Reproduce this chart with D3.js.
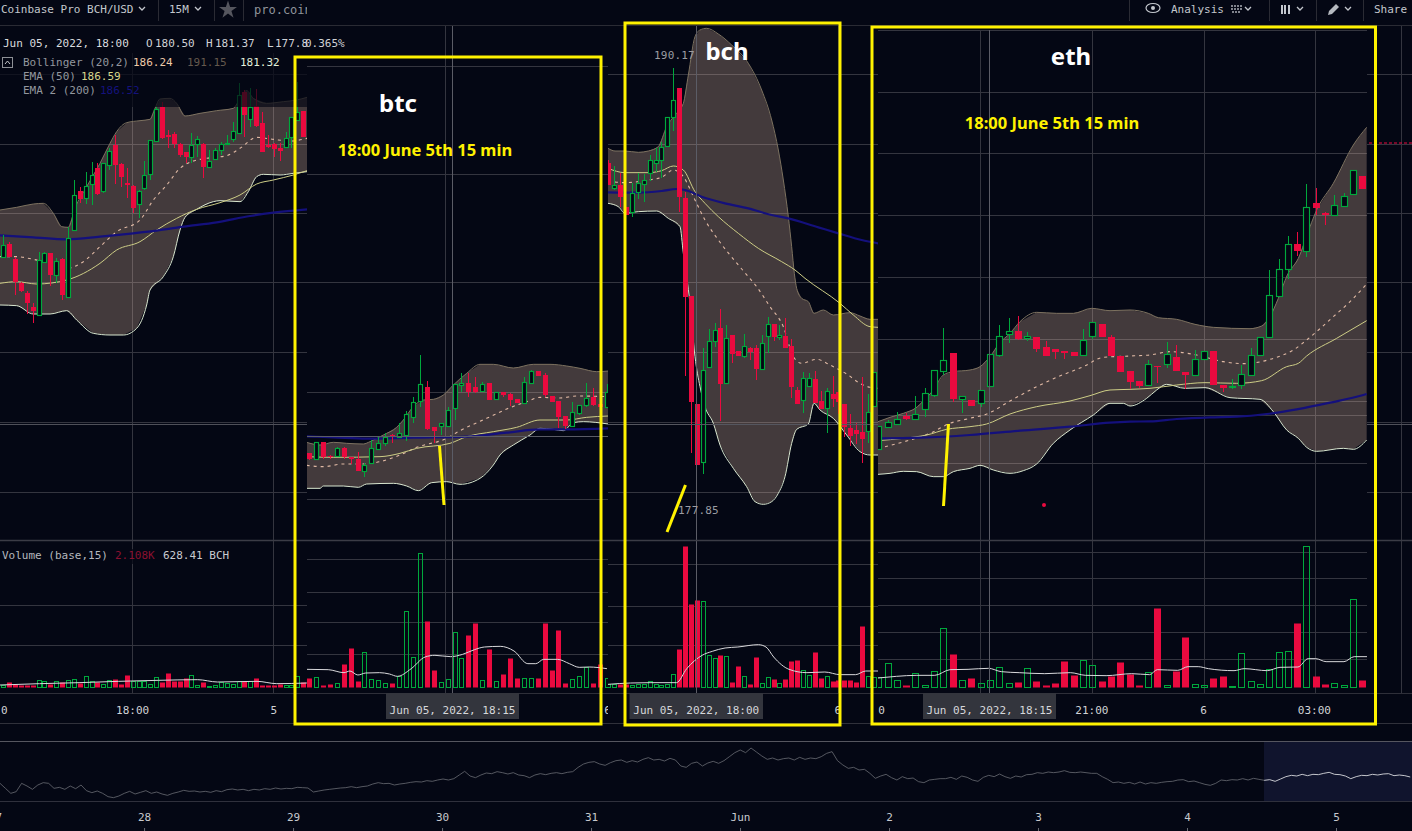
<!DOCTYPE html>
<html><head><meta charset="utf-8">
<style>html,body{margin:0;padding:0;background:#040714;overflow:hidden}svg{display:block}
.m{font-family:"DejaVu Sans Mono",monospace;font-size:11px}</style>
<script src="https://cdnjs.cloudflare.com/ajax/libs/d3/7.8.5/d3.min.js"></script></head><body>
<script>
// ---- data: candles are [open, close, high, low] on each pane's own level scale (smaller level = higher on screen)
const leftCandles=[[772,735,705,775],[733,770,725,772],[778,845,770,885],[848,872,845,875],[878,910,873,942],[922,932,910,968],[945,780,755,945],[786,758,755,790],[760,826,758,858],[826,782,775,850],[778,884,775,900],[892,714,680,892],[690,584,540,690],[574,596,562,610],[595,557,515,612],[553,524,485,615],[504,582,490,585],[572,490,490,580],[495,452,445,510],[436,494,405,552],[492,532,490,560],[550,556,505,595],[558,624,556,638],[612,572,570,655],[565,524,482,570],[522,419,419,540],[424,328,320,424],[322,414,305,416],[405,410,390,445],[403,431,395,445],[433,466,430,470],[457,470,455,488],[472,436,400,488],[432,418,408,470],[432,500,430,535],[501,484,450,505],[476,449,445,480],[451,431,425,465],[432,430,405,433],[418,394,365,425],[400,284,250,400],[277,345,270,412],[358,322,265,380],[318,378,268,380],[370,455,335,455],[435,441,405,445],[433,446,430,470],[445,452,430,482],[440,413,395,442],[412,350,350,443],[360,335,245,360],[334,410,332,412],[408,525,405,530]];
const leftUpper=[[0,630],[50,622],[100,612],[130,610],[160,640],[185,680],[205,682],[225,625],[260,560],[300,490],[330,430],[350,395],[380,368],[420,362],[450,358],[465,325],[480,297],[510,295],[530,310],[555,348],[600,340],[650,332],[700,325],[715,305],[740,272],[760,295],[800,310],[850,305],[890,300],[921,292]];
const leftLower=[[0,915],[50,917],[100,942],[150,942],[200,932],[230,960],[280,1000],[330,1005],[370,1005],[410,985],[440,915],[450,870],[490,830],[520,770],[540,690],[555,652],[590,628],[640,605],[660,602],[720,605],[745,575],[770,530],[790,523],[840,525],[880,520],[921,515]];
const leftMiddle=[[0,770],[50,770],[100,778],[200,805],[250,785],[300,740],[350,695],[420,660],[460,600],[500,555],[540,505],[580,483],[620,475],[680,467],[720,445],[770,412],[820,418],[870,423],[921,415]];
const leftEma50=[[0,850],[50,845],[110,852],[200,840],[300,790],[350,750],[420,725],[470,690],[530,655],[590,628],[660,608],[720,585],[770,552],[820,540],[880,525],[921,512]];
const leftEma200=[[0,706],[100,712],[200,718],[300,710],[400,700],[470,692],[550,680],[650,667],[750,648],[820,638],[921,628]];

const btcCandles=[[340,357,340,360],[358,307,307,358],[307,350,307,358],[347,352,345,358],[347,325,322,348],[325,350,322,358],[352,358,350,372],[358,392,335,392],[392,376,370,412],[370,325,300,372],[326,310,290,328],[310,290,280,318],[285,291,282,310],[291,278,250,295],[284,223,212,302],[232,187,170,248],[184,133,46,200],[142,268,122,270],[262,273,262,310],[257,250,250,285],[257,211,200,258],[205,133,133,240],[136,130,98,155],[130,155,100,172],[142,155,110,160],[154,131,125,155],[130,179,130,180],[178,155,155,180],[155,165,155,170],[162,180,160,198],[178,188,178,190],[188,127,112,190],[128,94,90,130],[94,107,94,108],[106,165,100,170],[168,185,168,185],[184,231,184,265],[229,257,229,268],[257,215,185,260],[220,196,195,225],[194,173,130,200],[172,195,145,197],[193,202,193,245],[200,155,133,200]];
const btcUpper=[[20,307],[60,315],[100,307],[140,310],[190,312],[210,305],[250,285],[290,262],[310,240],[340,200],[370,180],[400,178],[430,165],[460,135],[500,100],[540,73],[580,73],[640,84],[700,73],[750,73],[800,78],[840,85],[890,95],[925,93]];
const btcLower=[[20,445],[60,445],[70,438],[130,438],[175,442],[200,432],[280,430],[320,438],[355,452],[395,428],[440,425],[480,433],[540,415],[580,375],[600,345],[640,315],[690,285],[720,265],[760,268],[790,272],[820,248],[850,245],[925,252]];
const btcMiddle=[[20,376],[70,380],[130,372],[180,372],[240,365],[300,345],[350,322],[440,295],[480,272],[560,235],[620,207],[680,185],[720,172],[780,174],[830,168],[925,170]];
const btcEma50=[[20,350],[100,352],[240,350],[300,340],[350,325],[450,310],[500,290],[580,275],[650,262],[720,240],[800,240],[860,232],[925,228]];
const btcEma200=[[20,289],[100,292],[200,296],[340,293],[500,290],[620,278],[720,268],[800,268],[925,265]];

const bchCandles=[[430,495,420,495],[503,496,437,510],[495,532,458,560],[560,585,560,585],[576,520,488,590],[515,488,460,538],[493,481,462,545],[460,421,405,482],[430,421,385,455],[421,380,365,475],[379,292,290,380],[290,241,145,332],[204,530,204,575],[534,830,515,1068],[828,1145,828,1298],[1152,1335,1152,1335],[1325,1051,985,1362],[1040,964,926,1040],[964,931,910,980],[924,1091,868,1202],[1088,955,915,1092],[946,1001,946,1030],[993,1007,993,1008],[1007,979,943,1015],[984,996,980,1020],[984,1047,975,1080],[1048,970,945,1048],[949,913,892,1000],[912,951,912,962],[952,946,915,960],[948,983,895,983],[978,1100,958,1135],[1110,1152,1102,1152],[1141,1075,1055,1178],[1099,1075,1060,1100],[1077,1150,1052,1150],[1144,1167,1112,1167],[1165,1114,1105,1238],[1122,1136,1068,1162],[1116,1145,1116,1182],[1152,1222,1152,1250],[1225,1247,1182,1277],[1230,1241,1208,1272],[1237,1256,1072,1330],[1234,1175,1123,1270],[1159,1055,1055,1159],[1055,965,965,1055]];
const bchUpper=[[9,385],[30,393],[60,393],[100,397],[130,393],[160,380],[185,320],[210,285],[235,250],[250,165],[270,50],[285,30],[305,25],[340,42],[380,75],[430,130],[470,210],[500,300],[520,390],[535,480],[550,590],[560,680],[568,760],[575,805],[590,835],[610,845],[627,880],[655,870],[685,885],[735,878],[765,888],[795,898],[820,898]];
const bchLower=[[9,550],[40,560],[60,580],[100,575],[155,573],[190,595],[225,620],[235,700],[245,770],[255,850],[270,1010],[285,1100],[300,1160],[325,1210],[345,1275],[385,1345],[425,1400],[450,1445],[475,1453],[500,1445],[520,1420],[540,1370],[560,1270],[575,1228],[610,1212],[627,1150],[645,1170],[685,1195],[725,1245],[765,1295],[795,1305],[820,1305]];
const bchMiddle=[[9,483],[60,488],[130,480],[170,472],[205,450],[235,470],[270,540],[300,600],[340,660],[400,735],[430,770],[455,800],[495,860],[535,920],[565,1010],[590,1030],[635,1018],[675,1035],[725,1062],[765,1090],[795,1102],[820,1105]];
const bchEma50=[[9,445],[60,458],[130,458],[170,452],[205,438],[235,450],[270,515],[300,550],[340,590],[400,640],[460,685],[530,725],[570,750],[600,775],[705,850],[745,885],[795,920],[820,922]];
const bchEma200=[[9,517],[100,518],[170,513],[215,507],[240,510],[290,530],[360,550],[430,565],[500,585],[550,595],[640,622],[700,640],[770,660],[820,670]];

const ethCandles=[[988,918,918,988],[920,907,900,925],[911,898,877,913],[888,897,880,900],[898,881,827,900],[868,820,805,892],[826,751,751,830],[752,721,625,765],[700,837,700,845],[836,829,829,880],[840,857,840,858],[850,811,811,860],[799,703,703,800],[706,649,616,712],[641,634,595,670],[634,657,588,660],[653,649,637,662],[652,686,652,695],[682,707,662,707],[688,695,688,716],[694,699,694,716],[696,707,696,708],[706,659,628,707],[649,605,605,658],[612,650,612,650],[652,707,644,708],[708,755,708,755],[754,785,754,808],[783,797,783,805],[796,733,720,797],[738,741,738,788],[731,703,667,743],[712,752,676,753],[756,765,756,808],[764,718,690,765],[716,694,694,717],[693,795,693,796],[795,803,795,815],[802,799,778,808],[796,763,735,808],[764,706,685,767],[706,652,652,707],[650,526,450,655],[527,448,418,527],[446,373,347,478],[373,392,337,408],[394,262,193,410],[249,263,203,285],[279,284,275,316],[284,256,225,285],[257,229,220,257],[223,151,151,224],[168,207,168,207]];
const ethUpper=[[24,905],[60,892],[100,880],[136,865],[163,840],[190,810],[220,765],[250,755],[300,750],[330,740],[360,710],[388,670],[420,640],[450,605],[500,577],[560,580],[610,580],[665,565],[720,572],[780,570],[835,580],[865,593],[920,598],[975,613],[1030,622],[1140,626],[1175,618],[1200,590],[1225,535],[1252,465],[1285,415],[1320,320],[1340,270],[1390,190],[1450,75],[1490,22]];
const ethLower=[[24,1063],[60,1060],[100,1054],[140,1055],[190,1070],[220,1070],[250,1055],[300,1045],[330,1036],[370,1050],[420,1060],[460,1052],[500,1032],[550,970],[600,930],[670,885],[720,850],[760,850],[780,858],[830,835],[860,810],[890,793],[945,805],[1005,803],[1080,833],[1170,838],[1210,875],[1250,930],[1285,955],[1310,982],[1340,994],[1420,985],[1450,988],[1490,960]];
const ethMiddle=[[45,980],[120,960],[180,940],[240,910],[300,895],[350,882],[420,843],[500,800],[560,772],[640,740],[700,712],[780,708],[840,705],[900,695],[980,705],[1060,725],[1120,731],[1210,715],[1270,690],[1310,660],[1390,590],[1440,545],[1490,492]];
const ethEma50=[[24,962],[100,955],[170,945],[230,928],[300,920],[350,912],[420,882],[500,860],[600,843],[660,827],[720,810],[780,808],[840,805],[920,795],[1005,788],[1100,790],[1175,782],[1250,740],[1285,730],[1310,708],[1400,655],[1490,602]];
const ethEma200=[[24,955],[150,953],[300,945],[450,932],[600,920],[720,908],[780,905],[840,904],[920,897],[1020,892],[1100,890],[1190,882],[1280,868],[1380,848],[1480,825],[1490,822]];

const leftVol=[7,16,8,7,7,7,21,19,10,17,16,22,25,12,34,19,16,8,20,23,8,35,18,17,18,10,29,14,41,18,18,26,37,7,14,4,7,15,11,10,19,17,19,26,5,5,5,10,5,5,32,14,26];
const leftVolSide="GRRRRRGGRGRGGRGGRGGRRRGGGGGRRRRRGGRGGGGGGRGRRRRRGGGRR";
const btcVol=[26,31,5,8,13,70,118,17,105,25,22,13,11,32,228,90,403,199,52,16,25,166,87,157,193,22,115,18,40,88,26,28,28,26,193,50,172,13,25,33,60,13,70,28];
const btcVolSide="RGRRGRRRGGGGRGGGGRRGGGGRRGRGRRRGGRRRRRGGGRRG";
const bchVol=[8,8,8,8,7,10,8,18,9,7,9,40,113,422,250,260,258,95,88,97,93,14,62,34,9,91,12,31,23,13,23,77,80,50,37,106,26,34,18,20,22,20,14,182,34,30,35];
const bchVolSide="GGRRGGGGGGGGRRRRGGGRGRRGRRGGRGRRRGGRRGRRRRRRGGG";
const ethVol=[30,73,22,5,43,7,49,178,98,20,27,13,22,61,13,14,58,17,6,11,77,35,82,67,17,33,74,40,5,46,236,7,47,149,10,7,26,32,4,103,19,10,55,106,109,191,422,32,8,13,7,265,20];
const ethVolSide="GGGRGGGGRGRGGGGRGRRRRRGGRRRRRGRGRRGGRRGGGGGGGRGRRGGGR";
const leftVolMa=[[0,6],[100,10],[200,13],[300,17],[400,20],[500,22],[550,15],[650,17],[700,10],[776,12]];
const btcVolMa=[[776,53],[830,52],[870,43],[885,48],[905,36],[925,42],[960,43],[985,39],[1005,32],[1040,55],[1075,90],[1100,95],[1140,91],[1170,98],[1200,112],[1225,120],[1265,122],[1300,108],[1335,70],[1355,70],[1375,83],[1410,83],[1440,70],[1465,59],[1490,60],[1535,55]];
const bchVolMa=[[-4,8],[40,12],[80,13],[130,13],[150,55],[180,95],[200,107],[225,117],[250,120],[290,127],[305,120],[320,90],[350,53],[385,43],[420,45],[450,37],[480,37],[500,48],[524,48]];
const ethVolMa=[[524,27],[560,32],[600,35],[635,35],[665,52],[700,53],[740,56],[765,46],[800,43],[850,40],[900,43],[930,35],[970,34],[1020,40],[1055,37],[1070,52],[1110,50],[1130,61],[1150,61],[1170,55],[1220,49],[1240,55],[1285,49],[1310,59],[1345,60],[1365,85],[1380,85],[1400,76],[1435,76],[1455,91],[1480,91]];

const navSeries=[160,175,190,185,160,168,178,165,158,160,175,172,178,168,176,165,182,188,183,190,200,203,198,190,184,192,187,182,190,186,192,196,190,186,181,184,183,186,184,187,182,185,179,177,180,178,182,178,180,176,178,174,177,175,176,172,173,174,186,183,180,178,176,174,173,170,173,170,168,162,158,161,160,165,162,160,157,155,156,152,154,150,147,150,146,135,124,138,143,135,129,131,125,128,132,128,135,137,143,135,131,134,130,128,131,127,125,112,102,97,95,102,106,98,92,90,97,92,96,88,83,90,88,93,85,90,108,112,100,96,108,99,94,100,92,80,68,60,68,54,66,78,88,84,90,86,84,90,82,88,84,86,80,70,65,92,105,115,112,120,118,130,145,138,133,143,150,140,146,144,155,158,150,148,146,146,142,148,138,142,150,154,142,136,140,132,140,145,138,141,134,133,128,130,126,128,126,122,127,128,126,128,130,130,140,148,158,156,160,157,162,156,162,158,160,157,155,154,150,149,155,153,158,163,166,160,150,152,149,150,146,150,145,148,151,149,154,147,140,136,138,133,137,133,134,130,127,133,134,138,146,140,136,137,133,135,132,131,137,135,137,141];
const navLabels=["27","28","29","30","31","Jun","2","3","4","5"];
const crosshairLabels=["Jun 05, 2022, 18:15","Jun 05, 2022, 18:00","Jun 05, 2022, 18:15"];
const noteTitles=["btc","bch","eth"];
const noteTime="18:00 June 5th 15 min";
const peakLabels=["190.17","177.85"];

// ---- drawing
const W=1412,H=831,BG="#040714",GREEN="#00a83c",RED="#ea0a3f",GRID="#34353f",YEL="#fff200";
const svg=d3.select("body").append("svg").attr("width",W).attr("height",H).style("background",BG);
const defs=svg.append("defs");
const clip=(id,x0,x1,y0=0,y1=H)=>defs.append("clipPath").attr("id",id).append("rect").attr("x",x0).attr("y",y0).attr("width",x1-x0).attr("height",y1-y0);
const hline=(g,y,x0,x1,c=GRID,w=1)=>g.append("line").attr("x1",x0).attr("x2",x1).attr("y1",y+.5).attr("y2",y+.5).attr("stroke",c).attr("stroke-width",w);
const vline=(g,x,y0,y1,c=GRID,w=1)=>g.append("line").attr("x1",x+.5).attr("x2",x+.5).attr("y1",y0).attr("y2",y1).attr("stroke",c).attr("stroke-width",w);

const volY=d3.scaleLinear().domain([0,450]).range([687,537]);
const xVolA=d3.scaleLinear().domain([0,1568]).range([0,620]);
const xVolB=d3.scaleLinear().domain([0,1568]).range([610,1412]);

const panes=[
 {id:"pl",x0:0,x1:307,first:3.3,last:309.1,bw:4,x:d3.scaleLinear().domain([0,930]).range([0,310]),y:d3.scaleLinear().domain([0,1020]).range([0,340]),c:leftCandles,u:leftUpper,l:leftLower,m:leftMiddle,e1:leftEma50,e2:leftEma200,v:leftVol,s:leftVolSide,ma:leftVolMa,xv:xVolA,vbw:4,
  grid:[74,144,213,282,352,422,492],vgrid:[132,273],vgridV:[605,645],ticks:[[0.1,"0"],[21.9,"18:00"],[45.9,"5"]],top:53},
 {id:"pb",x0:307,x1:608,first:309,last:607,bw:4,x:d3.scaleLinear().domain([0,960]).range([300,620]),y:d3.scaleLinear().domain([0,510]).range([340,510]),c:btcCandles,u:btcUpper,l:btcLower,m:btcMiddle,e1:btcEma50,e2:btcEma200,v:btcVol,s:btcVolSide,ma:btcVolMa,xv:xVolA,vbw:4,
  grid:[66,174,282,392,499],vgrid:[445],vgridV:[559,592,622,654],ticks:[[43,"6"]],top:26},
 {id:"pc",x0:608,x1:878,first:608.3,last:879.7,bw:4,x:d3.scaleLinear().domain([0,840]).range([605,885]),y:d3.scaleLinear().domain([0,780]).range([20,280]),c:bchCandles,u:bchUpper,l:bchLower,m:bchMiddle,e1:bchEma50,e2:bchEma200,v:bchVol,s:bchVolSide,ma:bchVolMa,xv:xVolB,vbw:4,
  grid:[74,144,213,282,352,422,492],vgrid:[838],vgridV:[564,606,645],ticks:[[38.8,"6"]],top:26},
 {id:"pe",x0:878,x1:1367,first:878.2,last:1362.3,bw:6,x:d3.scaleLinear().domain([0,1490]).range([870,1366.67]),y:d3.scaleLinear().domain([0,1000]).range([120,453.33]),c:ethCandles,u:ethUpper,l:ethLower,m:ethMiddle,e1:ethEma50,e2:ethEma200,v:ethVol,s:ethVolSide,ma:ethVolMa,xv:xVolB,vbw:6,
  grid:[30,92,153,215,277,339,401,415,463],vgrid:[980,1092,1204,1315],vgridV:[552,578,605,632,659],ticks:[[0.3,"0"],[22.9,"21:00"],[34.9,"6"],[46.8,"03:00"],[55.8,"7"]],top:30}
];

// right-hand strip of the underlying chart
const strip=svg.append("g");
[74,144,213,282,352,422,492].forEach(y=>hline(strip,y,1367,W));
vline(strip,1401,26,693);

hline(svg,25,0,W,"#2a2b34");
panes.forEach(p=>{
 clip(p.id,p.x0,p.x1);
 const g=svg.append("g").attr("clip-path",`url(#${p.id})`);
 p.grid.forEach(y=>hline(g,y,p.x0,p.x1));
 p.vgrid.forEach(x=>vline(g,x,p.top,693));
 p.vgridV.forEach(y=>hline(g,y,p.x0,p.x1));
 const line=d3.line().x(d=>p.x(d[0])).y(d=>p.y(d[1])).curve(d3.curveMonotoneX);
 const upPts=p.u.map(d=>[p.x(d[0]),p.y(d[1])]), loPts=p.l.slice().reverse().map(d=>[p.x(d[0]),p.y(d[1])]);
 g.append("path").attr("d",d3.line().curve(d3.curveLinear)(upPts.concat(loPts))+"Z").attr("fill","#ffd0b4").attr("fill-opacity",.255);
 const stroke=(data,c,w,dash)=>g.append("path").attr("d",line(data)).attr("fill","none").attr("stroke",c).attr("stroke-width",w).attr("stroke-dasharray",dash||null);
 stroke(p.u,"#7d7260",1);
 stroke(p.l,"#d8e6cf",1);
 stroke(p.m,"#e0b9a4",1.1,"3,4");
 stroke(p.e1,"#cdcd86",1);
 stroke(p.e2,"#14107c",2.2);
 // candles through a bar-index scale and the pane's level scale
 const xi=d3.scaleLinear().domain([0,p.c.length-1]).range([p.first,p.last]);
 const cx=i=>Math.round(xi(i))+.5;
 const ry=v=>Math.round(p.y(v));
 const up=d=>d[1]<d[0];
 const cg=g.selectAll("g.c").data(p.c).join("g").attr("class","c");
 cg.append("line").attr("x1",(d,i)=>cx(i)).attr("x2",(d,i)=>cx(i)).attr("y1",d=>ry(d[2])).attr("y2",d=>ry(d[3])).attr("stroke",d=>up(d)?GREEN:RED).attr("stroke-width",1);
 cg.append("rect").attr("x",(d,i)=>Math.floor(cx(i)-p.bw/2)+(up(d)?.5:0)).attr("width",d=>up(d)?p.bw:p.bw+1)
   .attr("y",d=>ry(Math.min(d[0],d[1]))+(up(d)?.5:0)).attr("height",d=>Math.max(1,Math.abs(ry(d[0])-ry(d[1]))))
   .attr("fill",d=>up(d)?BG:RED).attr("stroke",d=>up(d)?GREEN:"none").attr("stroke-width",1.15);
 // volume
 const xv=d3.scaleLinear().domain([0,p.v.length-1]).range([p.first,p.last]);
 const vx=i=>Math.floor(Math.round(xv(i))+.5-p.vbw/2);
 g.selectAll("rect.v").data(p.v).join("rect").attr("class","v")
   .attr("x",(d,i)=>vx(i)+(p.s[i]==="G"?.5:0)).attr("width",(d,i)=>p.s[i]==="G"?p.vbw:p.vbw+1)
   .attr("y",d=>Math.round(volY(d))+.5).attr("height",d=>Math.max(1,Math.round(volY(0)-volY(d))))
   .attr("fill",(d,i)=>p.s[i]==="G"?"none":RED).attr("stroke",(d,i)=>p.s[i]==="G"?GREEN:"none").attr("stroke-width",1);
 g.append("path").attr("d",d3.line().x(d=>p.xv(d[0])).y(d=>volY(d[1])).curve(d3.curveMonotoneX)(p.ma)).attr("fill","none").attr("stroke","#d9d9dc").attr("stroke-width",1);
 // time axis
 const ax=d3.axisBottom(xi).tickValues(p.ticks.map(t=>t[0])).tickFormat((d,i)=>p.ticks[i][1]).tickSize(0).tickPadding(13);
 const ag=g.append("g").attr("transform","translate(0,693)").call(ax);
 ag.select(".domain").remove();
 ag.selectAll("text").attr("class","m").attr("fill","#d2d3d6").style("font-family",'"DejaVu Sans Mono",monospace').style("font-size","11px");
});

// red stray dot, last-price dashes
svg.append("circle").attr("cx",1044).attr("cy",505).attr("r",2).attr("fill",RED);
svg.append("line").attr("x1",1369).attr("x2",W).attr("y1",143).attr("y2",143).attr("stroke",RED).attr("stroke-width",1).attr("stroke-dasharray","3,2");

// crosshairs
const CH="#5b5c66";
[[452,26,693],[696,26,693],[989,30,693]].forEach(([x,a,b])=>vline(svg,x,a,b,CH));
hline(svg,424,0,307,"#4f5059");hline(svg,436,307,608,CH);hline(svg,424,608,878,"#55565f");hline(svg,424,1367,W,"#4f5059");
hline(svg,540,0,W,"#3b3c46",1.5);
hline(svg,693,0,W,"#2e2f39");hline(svg,723,0,W,"#30313b");

// legend dim box over the left chart
svg.append("rect").attr("x",0).attr("y",53).attr("width",307).attr("height",54).attr("fill",BG).attr("fill-opacity",.7);
svg.append("rect").attr("x",0).attr("y",549).attr("width",228).attr("height",15).attr("fill",BG).attr("fill-opacity",.7);

const txt=(s,x,y,c="#b9bdc4",cls="m",anchor="start",g=svg)=>g.append("text").attr("class",cls).attr("x",x).attr("y",y).attr("fill",c).attr("text-anchor",anchor).text(s);
// toolbar
const tb=svg.append("g");
txt("Coinbase Pro BCH/USD",1,13,"#c3c7cd","m","start",tb);
txt("15M",169,13,"#c3c7cd","m","start",tb);
clip("ptool",0,307);
txt("pro.coin",254,14,"#8f939a","m","start",tb.append("g").attr("clip-path","url(#ptool)")).style("font-size","12px");
[158,214,243,1129,1269,1316,1363].forEach(x=>vline(tb,x,0,21,"#2a2b34"));
const chev=x=>tb.append("path").attr("d",`M${x},7l3,3l3,-3`).attr("fill","none").attr("stroke","#c3c7cd").attr("stroke-width",1.3);
[139,195,1245,1297,1345].forEach(chev);
tb.append("path").attr("d",d3.symbol(d3.symbolStar,100)).attr("transform","translate(228,10)").attr("fill","#55565e");
// eye, tools and pencil icons
tb.append("ellipse").attr("cx",1153).attr("cy",8).attr("rx",7).attr("ry",4.5).attr("fill","none").attr("stroke","#c3c7cd").attr("stroke-width",1.2);
tb.append("circle").attr("cx",1153).attr("cy",8).attr("r",2).attr("fill","#c3c7cd");
txt("Analysis",1171,13,"#c3c7cd","m","start",tb);
tb.append("path").attr("d","M1231,6h11M1231,9h11M1232,12h9").attr("stroke","#a9adb4").attr("stroke-width",1.6).attr("stroke-dasharray","2,1");
tb.append("path").attr("d","M1282,5v9M1285,5v9M1289,5v9").attr("stroke","#c3c7cd").attr("stroke-width",2);
tb.append("path").attr("d","M1328,15l1,-4l7,-7l3,3l-7,7z").attr("fill","#b6bac0");
txt("Share",1374,13,"#c3c7cd","m","start",tb);

// legends
txt("Jun 05, 2022, 18:00",3,47,"#d9dbdf");
[["O",146],["180.50",155],["H",206],["181.37",215],["L",267],["177.8",275],["0.365%",305]].forEach(([s,x])=>txt(s,x,47,"#d0d2d6"));
svg.append("rect").attr("x",2.5).attr("y",57.5).attr("width",10).attr("height",10).attr("fill","none").attr("stroke","#8d9096");
svg.append("path").attr("d","M5,64l2.5,-3l2.5,3").attr("fill","none").attr("stroke","#c8cace");
txt("Bollinger (20,2)",23,66,"#93979e");txt("186.24",133,66,"#efcaa8");txt("191.15",187,66,"#65594e");txt("181.32",240,66,"#e2f0dc");
txt("EMA (50)",23,80,"#93979e");txt("186.59",81,80,"#d8d88c");
txt("EMA 2 (200)",23,94,"#93979e");txt("186.52",100,94,"#14127c");
txt("Volume (base,15)",2,559,"#b5b8be");txt("2.108K",115,559,"#8a1030");txt("628.41 BCH",163,559,"#c9cbd0");

// crosshair time labels
[[386,133],[629.5,133.5],[923,133]].forEach(([x,w],i)=>{
 svg.append("rect").attr("x",x).attr("y",693).attr("width",w).attr("height",26).attr("fill","#33353d");
 txt(crosshairLabels[i],x+w/2,714,"#d6d7da","m","middle");
});
txt(peakLabels[0],654,59,"#9b9da3").attr("letter-spacing",.2);
txt(peakLabels[1],678,514,"#9b9da3").attr("letter-spacing",.2);

// navigator
const navX=d3.scaleLinear().domain([0,navSeries.length-1]).range([0,1410.2]), navY=d3.scaleLinear().domain([0,303]).range([730,831]);
hline(svg,741,0,W,"#55565f");hline(svg,801,0,W,"#2f303c");
svg.append("rect").attr("x",1264).attr("y",742).attr("width",148).attr("height",59).attr("fill","#10142d");
const navLine=d3.line().x((d,i)=>navX(i)).y(d=>navY(d));
clip("navA",0,1264);clip("navB",1264,W);
svg.append("path").attr("clip-path","url(#navA)").attr("d",navLine(navSeries)).attr("fill","none").attr("stroke","#6a6c74").attr("stroke-width",.8);
svg.append("path").attr("clip-path","url(#navB)").attr("d",navLine(navSeries)).attr("fill","none").attr("stroke","#d8d9de").attr("stroke-width",.9);
const navScale=d3.scaleLinear().domain([0,9]).range([-4.9,1336]);
const navAxis=d3.axisTop(navScale).tickValues(d3.range(10)).tickFormat((d,i)=>navLabels[i]).tickSize(3).tickPadding(7);
const navG=svg.append("g").attr("transform","translate(0,831)").call(navAxis);
navG.select(".domain").remove();
navG.selectAll("line").attr("stroke","#6a6c74");
navG.selectAll("text").attr("fill","#c7c9ce").style("font-family",'"DejaVu Sans Mono",monospace').style("font-size","11px");

// yellow annotation boxes and slashes
const yb=svg.append("g").attr("fill","none").attr("stroke",YEL).attr("stroke-width",3);
yb.append("rect").attr("x",295).attr("y",57).attr("width",306).attr("height",667);
yb.append("rect").attr("x",625).attr("y",23).attr("width",215).attr("height",702);
yb.append("rect").attr("x",872).attr("y",27).attr("width",503.5).attr("height",697);
yb.append("path").attr("d","M439.5,446L444,505");
yb.append("path").attr("d","M685.5,485L667,532");
yb.append("path").attr("d","M948.5,424L943.5,506");

const note=(s,x,y,c,size,font)=>svg.append("text").attr("x",x).attr("y",y).attr("fill",c).attr("text-anchor","middle").attr("font-family",font).attr("font-weight",700).attr("font-size",size).text(s);
const noteFont='"Noto Sans","Open Sans",sans-serif';
note(noteTitles[0],398,112,"#fff",24,noteFont);note(noteTitles[1],727,60,"#fff",24,noteFont);note(noteTitles[2],1071,65,"#fff",24,noteFont);
note(noteTime,425,156,YEL,16.5,noteFont);note(noteTime,1052,129,YEL,16.5,noteFont);
</script></body></html>
